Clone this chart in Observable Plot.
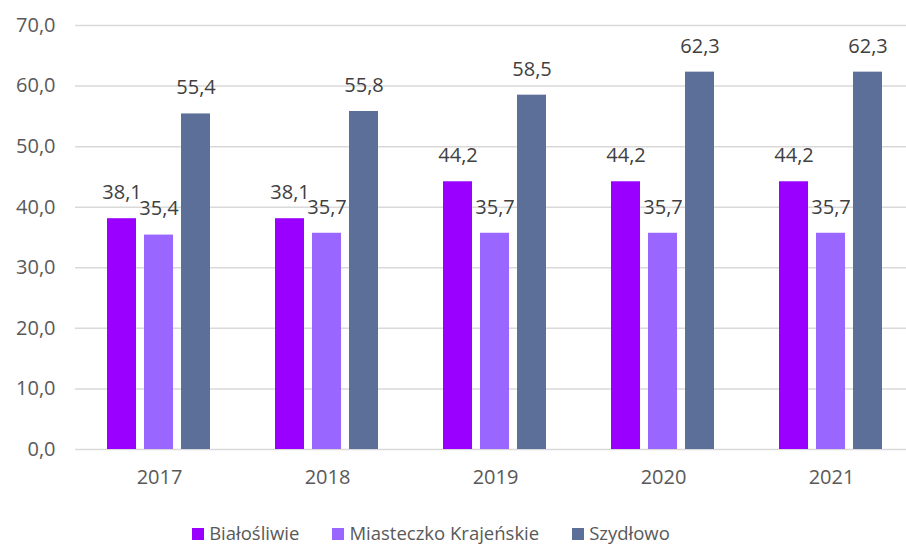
<!DOCTYPE html>
<html><head><meta charset="utf-8">
<script src="https://cdn.jsdelivr.net/npm/d3@7"></script>
<script src="https://cdn.jsdelivr.net/npm/@observablehq/plot@0.6"></script>
<style>
body{margin:0;background:#fff;font-family:"Open Sans",sans-serif;}
#chart svg{display:block;}
#legend{display:flex;justify-content:center;gap:33px;font-size:18.5px;color:#595959;margin-top:20px;padding-right:44px;line-height:26px;}
#legend span.sw{display:inline-block;width:12px;height:12px;margin-right:5px;vertical-align:0px;}
</style></head><body>
<div id="chart"></div>
<div id="legend"></div>
<script>
const years = ["2017","2018","2019","2020","2021"];
const series = ["Białośliwie","Miasteczko Krajeńskie","Szydłowo"];
const bialosliwie = [38.1, 38.1, 44.2, 44.2, 44.2];
const miasteczko = [35.4, 35.7, 35.7, 35.7, 35.7];
const szydlowo = [55.4, 55.8, 58.5, 62.3, 62.3];
const colors = ["#9900FF", "#9966FF", "#5B6F99"];
const yTicks = [0,10,20,30,40,50,60,70];

const vals = [bialosliwie, miasteczko, szydlowo];
const data = [];
years.forEach((y,i) => series.forEach((s,j) => data.push({year:y, series:s, value:vals[j][i]})));
const fmt = d => d.toFixed(1).replace(".", ",");

const chart = Plot.plot({
  width: 906, height: 500,
  marginLeft: 73, marginRight: 0, marginTop: 25, marginBottom: 51,
  style: {fontFamily: "'Open Sans', sans-serif", fontSize: "20px", color: "#595959"},
  fx: {domain: years, range: [73, 916], padding: 0, label: null, axis: null},
  x: {domain: series, paddingInner: 0.21, paddingOuter: 0.82, axis: null},
  y: {domain: [0, 70], ticks: yTicks, label: null},
  color: {domain: series, range: colors},
  marks: [
    Plot.ruleY(yTicks, {stroke: "#d9d9d9", strokeWidth: 1.5}),
    Plot.axisY({ticks: yTicks, tickFormat: fmt, tickSize: 0, tickPadding: 20, fontSize: 20, fill: "#595959", label: null}),
    Plot.axisFx({anchor: "bottom", tickSize: 0, tickPadding: 20, fontSize: 20, fill: "#595959", label: null}),
    Plot.barY(data, {fx: "year", x: "series", y: "value", fill: "series"}),
    Plot.text(data, {fx: "year", x: "series", y: "value", text: d => fmt(d.value), dy: -26, fill: "#404040", fontSize: 20})
  ]
});
document.getElementById("chart").append(chart);

const lg = document.getElementById("legend");
series.forEach((s,i) => {
  const item = document.createElement("div");
  item.innerHTML = `<span class="sw" style="background:${colors[i]}"></span>${s}`;
  lg.append(item);
});
</script>
</body></html>
